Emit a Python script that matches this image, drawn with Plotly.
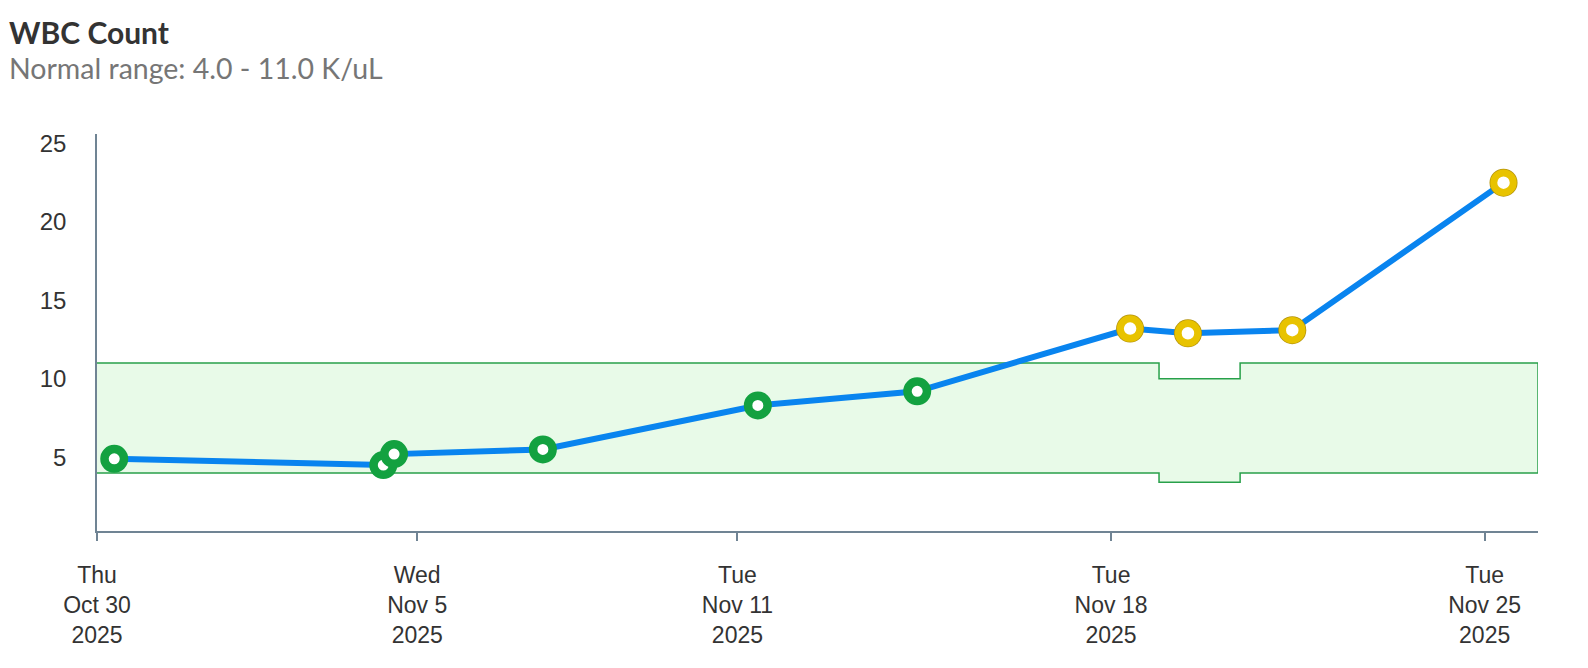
import plotly.graph_objects as go
import pandas as pd

# WBC results (K/uL) with the reference range reported for each draw
draw_times = ["2025-10-30 07:45", "2025-11-04 08:45", "2025-11-04 13:35", "2025-11-07 08:30",
              "2025-11-11 09:10", "2025-11-14 08:50", "2025-11-18 08:35", "2025-11-19 10:35",
              "2025-11-21 09:30", "2025-11-25 08:30"]
wbc = [4.9, 4.5, 5.2, 5.5, 8.3, 9.2, 13.2, 12.9, 13.1, 22.5]
ref_low = [4.0, 4.0, 4.0, 4.0, 4.0, 4.0, 4.0, 3.4, 4.0, 4.0]
ref_high = [11.0, 11.0, 11.0, 11.0, 11.0, 11.0, 11.0, 10.0, 11.0, 11.0]

tick_dates = ["2025-10-30", "2025-11-05", "2025-11-11", "2025-11-18", "2025-11-25"]
x_start, x_end = "2025-10-30", "2025-11-26"

df = pd.DataFrame({"t": pd.to_datetime(draw_times), "v": wbc, "lo": ref_low, "hi": ref_high})
df["ok"] = (df.v >= df.lo) & (df.v <= df.hi)

GREEN = "#13a140"
YELLOW = "#e8c300"
GOLD = "#b4930c"
BLUE = "#0984ef"
AXIS = "#708494"

# normal-range band as one closed step polygon (upper edge out, lower edge back)
bx = [pd.Timestamp(x_start)] + list(df.t) + [pd.Timestamp(x_end)]
band_x = bx + bx[::-1]
band_y = [ref_high[0]] + ref_high + [ref_high[-1]] + ([ref_low[0]] + ref_low + [ref_low[-1]])[::-1]

fig = go.Figure()
fig.add_trace(go.Scatter(x=band_x, y=band_y, mode="lines", fill="toself", line_shape="hvh",
                         fillcolor="#e8fae8", line=dict(color="#28a04a", width=1.5), hoverinfo="skip"))
fig.add_trace(go.Scatter(x=df.t, y=df.v, mode="lines", line=dict(color=BLUE, width=6)))

ok = df[df.ok]
bad = df[~df.ok]
fig.add_trace(go.Scatter(x=ok.t, y=ok.v, mode="markers",
                         marker=dict(size=19.5, color="white", line=dict(color=GREEN, width=8.5))))
fig.add_trace(go.Scatter(x=bad.t, y=bad.v, mode="markers",
                         marker=dict(size=28, color=GOLD, line=dict(width=0))))
fig.add_trace(go.Scatter(x=bad.t, y=bad.v, mode="markers",
                         marker=dict(size=19.5, color="white", line=dict(color=YELLOW, width=7))))

fig.update_layout(
    width=1588, height=668,
    showlegend=False,
    plot_bgcolor="white", paper_bgcolor="white",
    margin=dict(l=97, r=50, t=134, b=137),
    font=dict(family="Liberation Sans, Arial, sans-serif", size=23, color="#333333"),
    xaxis=dict(range=[x_start, x_end], tickvals=tick_dates, tickformat="%a<br>%b %-d<br>%Y",
               showgrid=False, zeroline=False, showline=True, linecolor=AXIS, linewidth=1.5,
               ticks="outside", ticklen=8, tickwidth=1.5, tickcolor=AXIS, ticklabelstandoff=15),
    yaxis=dict(range=[0.3, 25.6], tickvals=[5, 10, 15, 20, 25], tickfont=dict(size=24),
               showgrid=False, zeroline=False, showline=True, linecolor=AXIS, linewidth=1.5,
               ticks="", ticklabelstandoff=24),
    annotations=[
        dict(text="<b>WBC Count</b>", xref="paper", yref="paper", x=-0.0625, y=1.257,
             xanchor="left", yanchor="middle", showarrow=False,
             font=dict(family="Lato, sans-serif", size=30, color="#333333")),
        dict(text="Normal range: 4.0 - 11.0 K/uL", xref="paper", yref="paper", x=-0.0625, y=1.165,
             xanchor="left", yanchor="middle", showarrow=False,
             font=dict(family="Lato, sans-serif", size=28.5, color="#767676")),
    ],
)

# page body has an 8px default margin; drop it so the figure sits at the window origin
fig.write_html("out.html", config={"displayModeBar": False},
               post_script="document.body.style.margin='0';")
